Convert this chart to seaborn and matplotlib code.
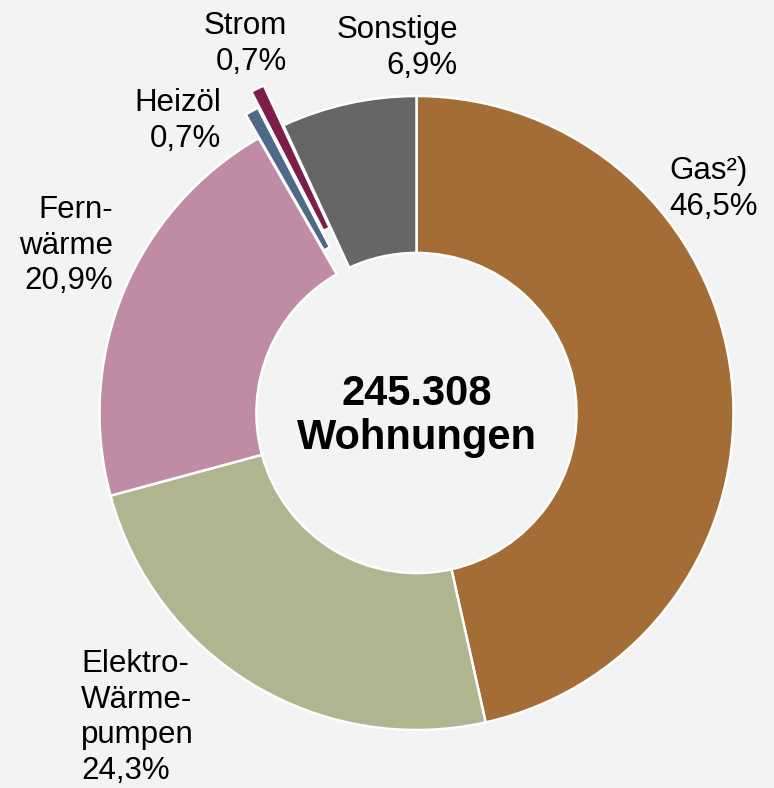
"""
Donut chart: Wohnungen nach Heizenergie
"""

import matplotlib.pyplot as plt
import seaborn as sns

sns.set_theme(style='white')
plt.rcParams['font.family'] = ['Liberation Sans', 'DejaVu Sans']

# data
categories = ['Gas²)', 'Elektro-\nWärme-\npumpen', 'Fern-\nwärme', 'Heizöl', 'Strom', 'Sonstige']
shares = [46.5, 24.3, 20.9, 0.7, 0.7, 6.9]
total_label = '245.308\nWohnungen'

colors = sns.color_palette(['#a36d35', '#b0b48f', '#bf8ba5', '#4e6a88', '#7d1d4c', '#666666'])
explode = [0, 0, 0, 0.085, 0.14, 0]

# label placement in figure pixels (x, top y, alignment)
label_pos = {
    'Gas²)': (669, 156, 'left'),
    'Elektro-\nWärme-\npumpen': (81, 649, 'left'),
    'Fern-\nwärme': (113, 195, 'right'),
    'Heizöl': (221, 88, 'right'),
    'Strom': (287, 11, 'right'),
    'Sonstige': (458, 15, 'right'),
}

W, H = 774, 788
cx, cy, R = 416.5, 413, 317

fig = plt.figure(figsize=(W / 100, H / 100), dpi=100, facecolor='#f3f3f3')
ax = fig.add_axes([0, 0, 1, 1])
ax.set_facecolor('#f3f3f3')

ax.pie(shares, colors=colors, startangle=90, counterclock=False, explode=explode,
       radius=1, wedgeprops=dict(width=0.495, edgecolor='white', linewidth=1.8))

ax.set_xlim(-cx / R, (W - cx) / R)
ax.set_ylim(-(H - cy) / R, cy / R)
ax.set_aspect('auto')
ax.axis('off')

# center text
ax.text(0, -0.01, total_label, ha='center', va='center', fontsize=30,
        fontweight='bold', linespacing=1.15, color='black')

# slice labels
for cat, val in zip(categories, shares):
    x, y, ha = label_pos[cat]
    txt = f"{cat}\n{val:.1f}%".replace('.', ',')
    fig.text(x / W, 1 - y / H, txt, ha=ha, va='top', fontsize=22.5,
             linespacing=1.24, color='black', multialignment=ha)

fig.savefig('out.png', dpi=100, facecolor=fig.get_facecolor())
